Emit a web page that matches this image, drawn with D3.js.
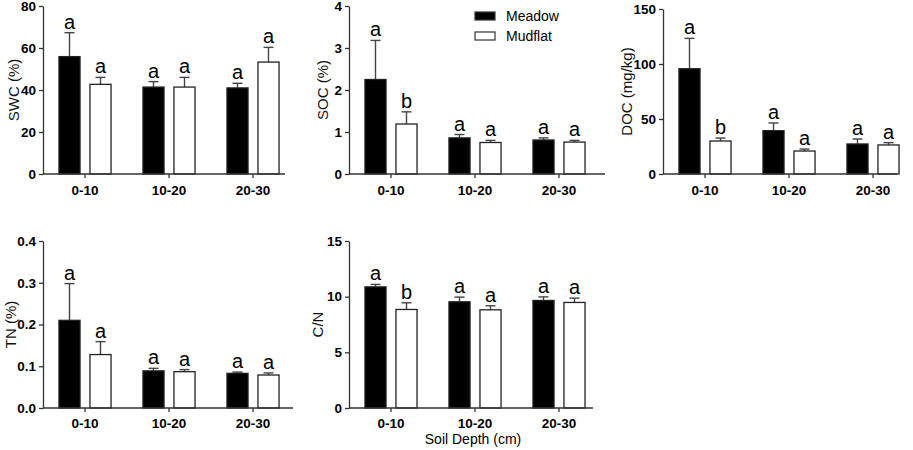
<!DOCTYPE html>
<html lang="en">
<head>
<meta charset="UTF-8">
<title>Soil properties</title>
<script src="https://d3js.org/d3.v7.min.js"></script>
<style>
    body { margin: 0; background: #fff; }
    svg { display: block; font-family: "Liberation Sans", Arial, sans-serif; }
    .tick text { font-weight: bold; font-size: 13.5px; fill: #000; }
    .domain, .tick line { stroke: #333; stroke-width: 1.3; }
</style>
</head>
<body>
<svg id="main" width="913" height="450"></svg>
<script>
    // categories
    let depths = ['0-10', '10-20', '20-30'];
    let series = ['Meadow', 'Mudflat'];

    // values (mean, upper error)
    let swcMeadow = [55.9, 41.4, 41.0], swcMeadowErr = [11.4, 2.6, 2.2];
    let swcMudflat = [42.7, 41.4, 53.3], swcMudflatErr = [3.3, 4.6, 7.0];
    let swcLetters = [['a', 'a'], ['a', 'a'], ['a', 'a']];

    let socMeadow = [2.25, 0.86, 0.81], socMeadowErr = [0.93, 0.08, 0.05];
    let socMudflat = [1.19, 0.75, 0.76], socMudflatErr = [0.29, 0.05, 0.04];
    let socLetters = [['a', 'b'], ['a', 'a'], ['a', 'a']];

    let docMeadow = [95.7, 39.4, 27.3], docMeadowErr = [27.6, 7.0, 4.5];
    let docMudflat = [30.0, 20.9, 26.4], docMudflatErr = [2.7, 1.8, 2.1];
    let docLetters = [['a', 'b'], ['a', 'a'], ['a', 'a']];

    let tnMeadow = [0.21, 0.089, 0.083], tnMeadowErr = [0.088, 0.006, 0.003];
    let tnMudflat = [0.128, 0.087, 0.079], tnMudflatErr = [0.031, 0.005, 0.005];
    let tnLetters = [['a', 'a'], ['a', 'a'], ['a', 'a']];

    let cnMeadow = [10.88, 9.54, 9.66], cnMeadowErr = [0.22, 0.42, 0.32];
    let cnMudflat = [8.85, 8.82, 9.48], cnMudflatErr = [0.6, 0.36, 0.39];
    let cnLetters = [['a', 'b'], ['a', 'a'], ['a', 'a']];

    // tick labels
    let swcTicks = [0, 20, 40, 60, 80];
    let socTicks = [0, 1, 2, 3, 4];
    let docTicks = [0, 50, 100, 150];
    let tnTicks = [0, 0.1, 0.2, 0.3, 0.4];
    let cnTicks = [0, 5, 10, 15];

    let fills = ['#000', '#fff'];
    let svg = d3.select('svg');

    let panels = [
        {label: 'SWC (%)', mean: [swcMeadow, swcMudflat], err: [swcMeadowErr, swcMudflatErr],
            letters: swcLetters, ticks: swcTicks, fmt: d3.format('d'),
            x0: 43, len: 242, top: 6, bottom: 174, labelX: 14, xpad: 7},
        {label: 'SOC (%)', mean: [socMeadow, socMudflat], err: [socMeadowErr, socMudflatErr],
            letters: socLetters, ticks: socTicks, fmt: d3.format('d'),
            x0: 349, len: 256, top: 6, bottom: 174, labelX: 323, xpad: 7},
        {label: 'DOC (mg/kg)', mean: [docMeadow, docMudflat], err: [docMeadowErr, docMudflatErr],
            letters: docLetters, ticks: docTicks, fmt: d3.format('d'),
            x0: 663, len: 234, top: 9, bottom: 174, labelX: 627, xpad: 7},
        {label: 'TN (%)', mean: [tnMeadow, tnMudflat], err: [tnMeadowErr, tnMudflatErr],
            letters: tnLetters, ticks: tnTicks, fmt: d3.format('.1f'),
            x0: 43, len: 250, top: 241, bottom: 408, labelX: 11, xpad: 6},
        {label: 'C/N', mean: [cnMeadow, cnMudflat], err: [cnMeadowErr, cnMudflatErr],
            letters: cnLetters, ticks: cnTicks, fmt: d3.format('d'),
            x0: 349, len: 244, top: 241, bottom: 408, labelX: 318, xpad: 6}
    ];

    panels.forEach(function (p) {
        let g = svg.append('g').attr('transform', 'translate(' + p.x0 + ',0)');

        let x = d3.scaleBand().domain(depths).range([0, 252])
            .paddingInner(0.38).paddingOuter(0.19);
        let xs = d3.scaleBand().domain(series).range([0, x.bandwidth()])
            .paddingInner(0.32);
        let y = d3.scaleLinear().domain([0, d3.max(p.ticks)]).range([p.bottom, p.top]);

        let rows = [];
        depths.forEach(function (d, i) {
            series.forEach(function (s, j) {
                rows.push({depth: d, s: s, j: j, v: p.mean[j][i], e: p.err[j][i], L: p.letters[i][j]});
            });
        });

        // error bars (upper only)
        let eb = g.selectAll('.err').data(rows).enter().append('g').attr('class', 'err')
            .attr('stroke', '#444').attr('stroke-width', 1.4);
        eb.append('line')
            .attr('x1', d => x(d.depth) + xs(d.s) + xs.bandwidth() / 2)
            .attr('x2', d => x(d.depth) + xs(d.s) + xs.bandwidth() / 2)
            .attr('y1', d => y(d.v))
            .attr('y2', d => y(d.v + d.e));
        eb.append('line')
            .attr('x1', d => x(d.depth) + xs(d.s) + xs.bandwidth() / 2 - 5)
            .attr('x2', d => x(d.depth) + xs(d.s) + xs.bandwidth() / 2 + 5)
            .attr('y1', d => y(d.v + d.e))
            .attr('y2', d => y(d.v + d.e));

        g.selectAll('rect.bar').data(rows).enter().append('rect')
            .attr('class', 'bar')
            .attr('x', d => x(d.depth) + xs(d.s))
            .attr('width', xs.bandwidth())
            .attr('y', d => y(d.v))
            .attr('height', d => y(0) - y(d.v))
            .attr('fill', d => fills[d.j])
            .attr('stroke', '#222')
            .attr('stroke-width', 1.3);

        g.selectAll('text.sig').data(rows).enter().append('text')
            .attr('class', 'sig')
            .attr('x', d => x(d.depth) + xs(d.s) + xs.bandwidth() / 2)
            .attr('y', d => y(d.v + d.e) - 4)
            .attr('text-anchor', 'middle')
            .style('font-size', '20px')
            .text(d => d.L);

        // axes
        g.append('g').call(d3.axisLeft(y).tickValues(p.ticks).tickFormat(p.fmt)
            .tickSize(4).tickSizeOuter(0).tickPadding(3));
        let xa = g.append('g').attr('transform', 'translate(0,' + p.bottom + ')')
            .call(d3.axisBottom(x).tickSize(4).tickSizeOuter(0).tickPadding(p.xpad));
        xa.select('.domain').remove();
        xa.append('line').attr('class', 'domain').attr('x1', 0).attr('x2', p.len)
            .attr('y1', 0).attr('y2', 0);

        svg.append('text')
            .attr('transform', 'translate(' + p.labelX + ',' + ((p.top + p.bottom) / 2) + ') rotate(-90)')
            .attr('text-anchor', 'middle')
            .attr('dy', '0.35em')
            .style('font-size', '15px')
            .style('fill', '#111')
            .text(p.label);
    });

    // legend
    let legend = svg.append('g').attr('transform', 'translate(475,12)');
    legend.selectAll('rect').data(series).enter().append('rect')
        .attr('x', 0).attr('y', (d, i) => i * 20)
        .attr('width', 20).attr('height', 8)
        .attr('fill', (d, i) => fills[i])
        .attr('stroke', '#333').attr('stroke-width', 1.2);
    legend.selectAll('text').data(series).enter().append('text')
        .attr('x', 31).attr('y', (d, i) => i * 20 + 4)
        .attr('dy', '0.35em')
        .style('font-size', '14px')
        .text(d => d);

    svg.append('text')
        .attr('x', 473).attr('y', 444)
        .attr('text-anchor', 'middle')
        .style('font-size', '14px')
        .text('Soil Depth (cm)');
</script>
</body>
</html>
